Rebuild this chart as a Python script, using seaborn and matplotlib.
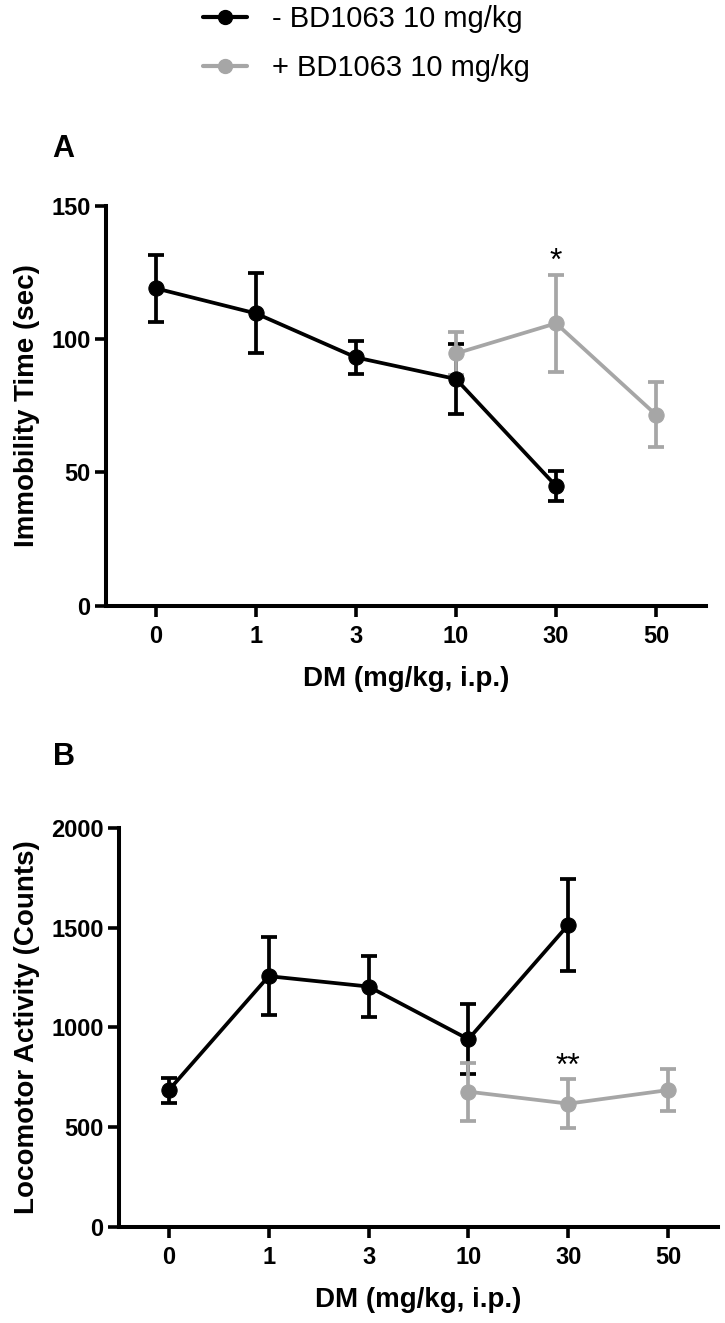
import numpy as np
import pandas as pd
import seaborn as sns
import matplotlib.pyplot as plt
from matplotlib.lines import Line2D

# Doses (categorical x axis)
doses = ['0', '1', '3', '10', '30', '50']

# Panel A - immobility time (sec)
imm_minus_dose = ['0', '1', '3', '10', '30']
imm_minus_mean = [119, 109.6, 93.1, 85, 44.9]
imm_minus_sem = [12.5, 15, 6.2, 13, 5.5]
imm_plus_dose = ['10', '30', '50']
imm_plus_mean = [94.6, 105.9, 71.6]
imm_plus_sem = [8, 18.3, 12.2]

# Panel B - locomotor activity (counts)
loc_minus_dose = ['0', '1', '3', '10', '30']
loc_minus_mean = [686, 1257, 1205, 941, 1514]
loc_minus_sem = [63, 195, 152, 175, 231]
loc_plus_dose = ['10', '30', '50']
loc_plus_mean = [678, 618, 686]
loc_plus_sem = [145, 122, 107]

labels = ['- BD1063 10 mg/kg', '+ BD1063 10 mg/kg']
colors = ['black', '#a6a6a6']

sns.set_style('ticks')
plt.rcParams['font.family'] = ['Liberation Sans', 'DejaVu Sans']
for key in ['text.color', 'axes.labelcolor', 'xtick.color', 'ytick.color', 'axes.edgecolor']:
    plt.rcParams[key] = 'black'


def make_df(dose, mean, sem, group):
    df = pd.DataFrame({'dose': dose, 'mean': mean, 'sem': sem})
    df['pos'] = [doses.index(d) for d in dose]
    df['group'] = group
    return df


def draw_panel(ax, minus, plus, ylim, yticks, ylabel):
    for df, c in zip([minus, plus], colors):
        ax.errorbar(df['pos'], df['mean'], yerr=df['sem'], fmt='none', ecolor=c,
                    elinewidth=2.7, capsize=5.5, capthick=2.7, zorder=2)
        sns.lineplot(data=df, x='pos', y='mean', color=c, marker='o', markersize=11,
                     markeredgecolor=c, linewidth=2.7, ax=ax, zorder=3)
    ax.set_xlim(-0.5, 5.5)
    ax.set_ylim(*ylim)
    ax.set_yticks(yticks)
    ax.set_xticks(range(len(doses)))
    ax.set_xticklabels(doses)
    ax.set_xlabel('DM (mg/kg, i.p.)', fontsize=20, fontweight='bold', labelpad=13)
    ax.set_ylabel(ylabel, fontsize=20, fontweight='bold', labelpad=8)
    for lab in ax.get_xticklabels() + ax.get_yticklabels():
        lab.set_fontweight('bold')
        lab.set_fontsize(17)
    ax.tick_params(width=2.6, length=8)
    ax.tick_params(axis='y', pad=3)
    ax.tick_params(axis='x', pad=6)
    sns.despine(ax=ax)
    for s in ['left', 'bottom']:
        ax.spines[s].set_linewidth(2.9)


fig = plt.figure(figsize=(7.25, 13.23), dpi=100)
ax1 = fig.add_axes([0.1462, 0.5422, 0.8276, 0.3023])
ax2 = fig.add_axes([0.1641, 0.0726, 0.8262, 0.3016])

imm_minus = make_df(imm_minus_dose, imm_minus_mean, imm_minus_sem, labels[0])
imm_plus = make_df(imm_plus_dose, imm_plus_mean, imm_plus_sem, labels[1])
loc_minus = make_df(loc_minus_dose, loc_minus_mean, loc_minus_sem, labels[0])
loc_plus = make_df(loc_plus_dose, loc_plus_mean, loc_plus_sem, labels[1])

draw_panel(ax1, imm_minus, imm_plus, (0, 150), [0, 50, 100, 150], 'Immobility Time (sec)')
draw_panel(ax2, loc_minus, loc_plus, (0, 2000), [0, 500, 1000, 1500, 2000], 'Locomotor Activity (Counts)')

# significance marks above the + BD1063 30 mg/kg points
p = doses.index('30')
ax1.annotate('*', (p, imm_plus_mean[1] + imm_plus_sem[1]), xytext=(0, 9),
             textcoords='offset points', ha='center', va='center', fontsize=23)
ax2.annotate('**', (p, loc_plus_mean[1] + loc_plus_sem[1]), xytext=(0, 9),
             textcoords='offset points', ha='center', va='center', fontsize=23)

fig.text(63 / 725, 1 - 149 / 1323, 'A', fontsize=22, fontweight='bold', ha='center', va='center')
fig.text(64 / 725, 1 - 757 / 1323, 'B', fontsize=22, fontweight='bold', ha='center', va='center')

handles = [Line2D([0], [0], color=c, marker='o', markersize=10, linewidth=3) for c in colors]
fig.legend(handles, labels, loc='upper left', bbox_to_anchor=(203 / 725, 0.996), frameon=False,
           fontsize=21, handlelength=1.5, handletextpad=0.85, labelspacing=0.7,
           borderpad=0, borderaxespad=0)

fig.savefig('out.png', dpi=100)
